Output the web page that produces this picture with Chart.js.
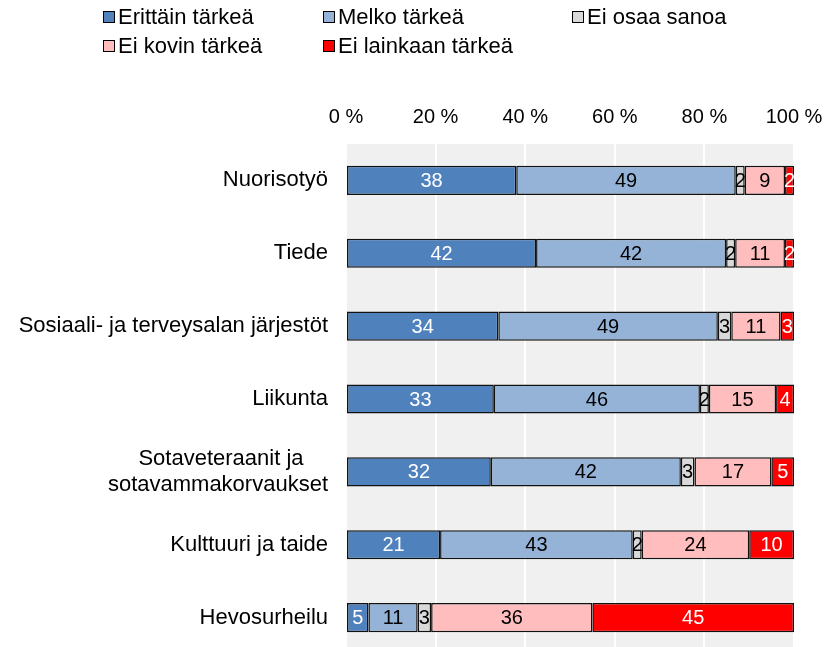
<!DOCTYPE html>
<html>
<head>
<meta charset="utf-8">
<script src="https://cdn.jsdelivr.net/npm/chart.js@4"></script>
<style>
  html, body { margin: 0; padding: 0; background: #fff; overflow: hidden; }
  #wrap { width: 828px; height: 647px; position: relative; overflow: hidden; }
</style>
</head>
<body>
<div id="wrap"><canvas id="chart"></canvas></div>
<script>
// kategoriat
const categories = [
  'Nuorisotyö',
  'Tiede',
  'Sosiaali- ja terveysalan järjestöt',
  'Liikunta',
  ['Sotaveteraanit ja', 'sotavammakorvaukset'],
  'Kulttuuri ja taide',
  'Hevosurheilu'
];

// sarjat (%)
const erittainTarkea   = [38, 42, 34, 33, 32, 21, 5];
const melkoTarkea      = [49, 42, 49, 46, 42, 43, 11];
const eiOsaaSanoa      = [2, 2, 3, 2, 3, 2, 3];
const eiKovinTarkea    = [9, 11, 11, 15, 17, 24, 36];
const eiLainkaanTarkea = [2, 2, 3, 4, 5, 10, 45];

const tickLabels = ['0 %', '20 %', '40 %', '60 %', '80 %', '100 %'];

const series = [
  { label: 'Erittäin tärkeä', values: erittainTarkea, color: '#4f81bd', text: '#fff' },
  { label: 'Melko tärkeä', values: melkoTarkea, color: '#95b3d7', text: '#000' },
  { label: 'Ei osaa sanoa', values: eiOsaaSanoa, color: '#d9d9d9', text: '#000' },
  { label: 'Ei kovin tärkeä', values: eiKovinTarkea, color: '#ffbdbd', text: '#000' },
  { label: 'Ei lainkaan tärkeä', values: eiLainkaanTarkea, color: '#ff0000', text: '#fff' }
];

// rivisummat -> pylväät venytetään 100 %:iin
const rowSums = categories.map((c, i) => series.reduce((s, d) => s + d.values[i], 0));

const FONT = 'Liberation Sans, Arial, sans-serif';

// monirivinen nimi keskitetään (lyhyempi rivi täytetään välilyönneillä)
const measureCtx = document.createElement('canvas').getContext('2d');
measureCtx.font = '22px ' + FONT;
function centerLines(lbl) {
  if (!Array.isArray(lbl)) return lbl;
  const widths = lbl.map(l => measureCtx.measureText(l).width);
  const maxW = Math.max(...widths);
  const sp = measureCtx.measureText('\u00a0').width;
  return lbl.map((l, i) => l + '\u00a0'.repeat(Math.round((maxW - widths[i]) / 2 / sp)));
}

// harmaa piirtoalue
const plotBg = {
  id: 'plotBg',
  beforeDraw(chart) {
    const { ctx, chartArea: a } = chart;
    ctx.save();
    ctx.fillStyle = '#f0f0f0';
    ctx.fillRect(a.left, a.top, a.right - a.left, a.bottom - a.top);
    ctx.restore();
  }
};

// arvot palkkien keskelle
const barLabels = {
  id: 'barLabels',
  afterDatasetsDraw(chart) {
    const ctx = chart.ctx;
    ctx.save();
    ctx.font = '20px ' + FONT;
    ctx.textAlign = 'center';
    ctx.textBaseline = 'middle';
    chart.data.datasets.forEach((ds, di) => {
      chart.getDatasetMeta(di).data.forEach((bar, i) => {
        ctx.fillStyle = series[di].text;
        ctx.fillText(String(series[di].values[i]), (bar.x + bar.base) / 2, bar.y + 1);
      });
    });
    ctx.restore();
  }
};

// selite kahdessa rivissä, sarakkeisiin
const legendPos = [[103, 17], [323, 17], [572, 17], [103, 46], [323, 46]];
const customLegend = {
  id: 'customLegend',
  afterDraw(chart) {
    const ctx = chart.ctx;
    ctx.save();
    ctx.font = '22px ' + FONT;
    ctx.textBaseline = 'middle';
    ctx.textAlign = 'left';
    series.forEach((s, i) => {
      const [x, y] = legendPos[i];
      ctx.fillStyle = s.color;
      ctx.fillRect(x + 0.5, y - 5.5, 11, 11);
      ctx.strokeStyle = '#000';
      ctx.lineWidth = 1;
      ctx.strokeRect(x + 0.5, y - 5.5, 11, 11);
      ctx.fillStyle = '#000';
      ctx.fillText(s.label, x + 15, y + 1);
    });
    ctx.restore();
  }
};

const data = {
  labels: categories,
  datasets: series.map(s => ({
    label: s.label,
    data: s.values.map((v, i) => v / rowSums[i] * 100),
    backgroundColor: s.color,
    borderColor: '#111',
    borderWidth: 1.5,
    borderSkipped: false,
    barPercentage: 0.4,
    categoryPercentage: 1
  }))
};

const config = {
  type: 'bar',
  data: data,
  options: {
    indexAxis: 'y',
    responsive: false,
    animation: false,
    layout: { padding: { top: 90, right: 34, bottom: 0, left: 0 } },
    plugins: {
      legend: { display: false },
      tooltip: { enabled: false }
    },
    scales: {
      x: {
        position: 'top',
        stacked: true,
        min: 0,
        max: 100,
        afterFit(scale) { scale.paddingLeft = 0; scale.paddingRight = 0; },
        ticks: {
          stepSize: 20,
          padding: 15,
          color: '#000',
          font: { family: FONT, size: 20 },
          callback: (v, i) => tickLabels[i]
        },
        grid: { color: '#fff', lineWidth: 2, drawTicks: false },
        border: { display: false }
      },
      y: {
        stacked: true,
        afterFit(scale) { scale.width = 346; scale.paddingTop = 0; scale.paddingBottom = 0; },
        ticks: {
          padding: 18,
          color: '#000',
          font: { family: FONT, size: 22 },
          callback: (v, i) => centerLines(categories[i])
        },
        grid: { display: false, drawTicks: false },
        border: { display: false }
      }
    }
  },
  plugins: [plotBg, barLabels, customLegend]
};

// piirtoalue jatkuu hieman kuvan alareunan yli, kuten alkuperäisessä
const canvas = document.getElementById('chart');
canvas.width = 828;
canvas.height = 654;
new Chart(canvas, config);
</script>
</body>
</html>
